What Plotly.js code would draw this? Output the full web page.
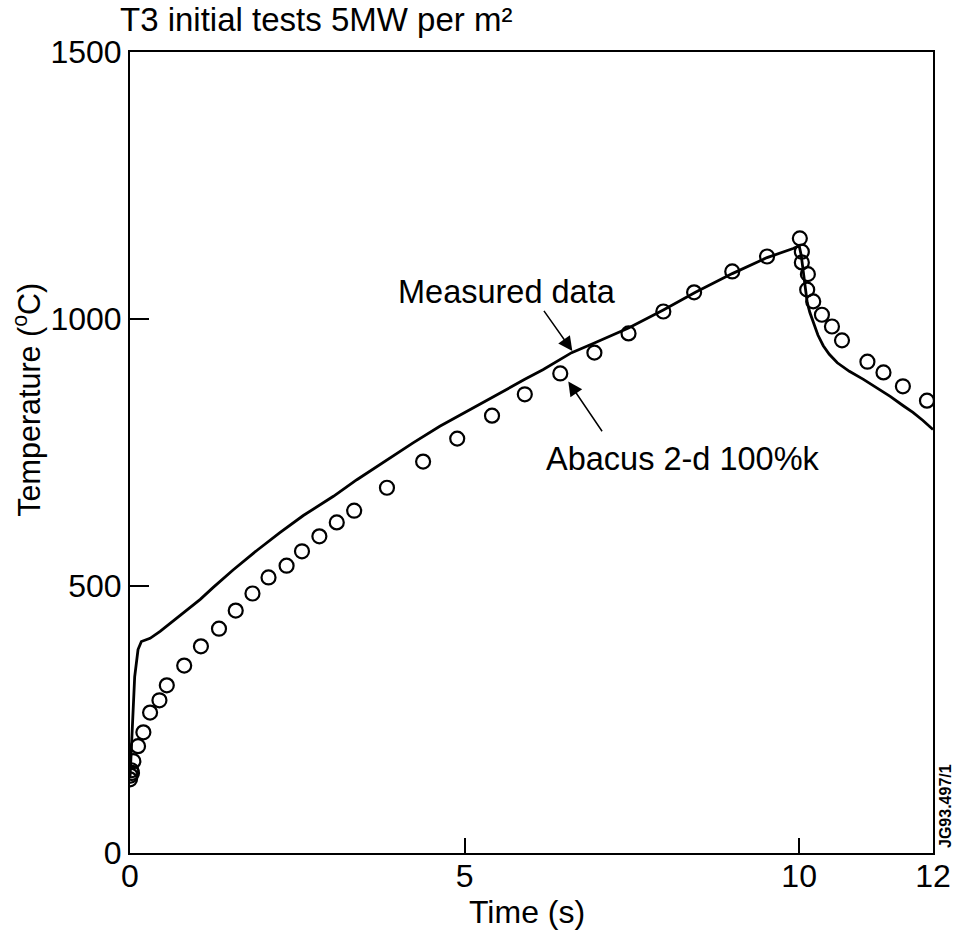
<!DOCTYPE html>
<html>
<head>
<meta charset="utf-8">
<script src="https://cdn.plot.ly/plotly-3.0.1.min.js"></script>
<style>html,body{margin:0;padding:0;background:#fff;}#chart{width:953px;height:939px;}</style>
</head>
<body>
<div id="chart"></div>
<script>
// Measured data (solid line)
const measuredTime = [0, 0.03, 0.07, 0.12, 0.17, 0.3, 0.45, 0.75, 1.05, 1.24, 1.54, 1.9, 2.24, 2.59, 3.04, 3.39, 3.78, 4.23, 4.63, 5.0, 5.41, 5.9, 6.17, 6.6, 6.94, 7.45, 7.97, 8.45, 9.0, 9.52, 9.91, 10.0, 10.03, 10.07, 10.12, 10.16, 10.21, 10.28, 10.36, 10.45, 10.57, 10.75, 10.96, 11.16, 11.36, 11.55, 11.7, 11.85, 12];
const measuredTemp = [140, 230, 330, 381, 396, 402, 415, 445, 475, 497, 530, 567, 600, 632, 668, 699, 731, 768, 799, 825, 853, 887, 905, 937, 955, 983, 1017, 1050, 1085, 1115, 1132, 1137, 1120, 1080, 1031, 1012, 995, 970, 950, 934, 918, 902, 887, 871, 855, 838, 825, 810, 793];

// Abacus 2-d 100%k (open circles)
const abacusTime = [0, 0.01, 0.02, 0.03, 0.05, 0.12, 0.2, 0.3, 0.44, 0.55, 0.81, 1.06, 1.33, 1.58, 1.83, 2.07, 2.34, 2.57, 2.83, 3.09, 3.35, 3.84, 4.38, 4.89, 5.41, 5.9, 6.43, 6.94, 7.45, 7.97, 8.43, 9.0, 9.52, 10.01, 10.04, 10.04, 10.13, 10.12, 10.21, 10.34, 10.49, 10.64, 11.02, 11.26, 11.55, 11.91];
const abacusTemp = [138, 145, 155, 150, 172, 200, 226, 263, 286, 314, 351, 387, 420, 454, 486, 516, 538, 565, 593, 619, 641, 684, 733, 776, 819, 859, 898, 937, 973, 1014, 1050, 1089, 1117, 1151, 1126, 1106, 1084, 1055, 1033, 1008, 986, 960, 920, 900, 874, 847];

const xTicks = [0, 5, 10, 12];
const yTicks = [0, 500, 1000, 1500];

const FONT = 'Liberation Sans, Arial, Helvetica, sans-serif';

const traces = [
  {
    x: measuredTime, y: measuredTemp, type: 'scatter', mode: 'lines',
    line: {color: '#000', width: 2.8}, name: 'Measured data', hoverinfo: 'skip'
  },
  {
    x: abacusTime, y: abacusTemp, type: 'scatter', mode: 'markers',
    marker: {symbol: 'circle-open', size: 14, color: '#000', line: {width: 2.2, color: '#000'}},
    name: 'Abacus 2-d 100%k', hoverinfo: 'skip'
  }
];

const layout = {
  width: 953, height: 939,
  paper_bgcolor: '#fff', plot_bgcolor: '#fff',
  showlegend: false,
  margin: {l: 130, r: 20, t: 52, b: 86},
  font: {family: FONT, color: '#000', size: 32},
  title: {
    text: 'T3 initial tests 5MW per m²',
    font: {family: FONT, size: 33, color: '#000'},
    xref: 'container', yref: 'container',
    x: 120 / 953, xanchor: 'left',
    y: 1 - 19 / 939, yanchor: 'middle'
  },
  xaxis: {
    range: [0, 12], tickvals: xTicks, ticktext: xTicks.map(String),
    showgrid: false, zeroline: false,
    showline: true, linecolor: '#000', linewidth: 2, mirror: true,
    ticks: 'inside', ticklen: 15, tickwidth: 2, tickcolor: '#000',
    ticklabelstandoff: -6,
    tickfont: {family: FONT, size: 32, color: '#000'}
  },
  yaxis: {
    range: [0, 1500], tickvals: yTicks, ticktext: yTicks.map(String),
    showgrid: false, zeroline: false,
    showline: true, linecolor: '#000', linewidth: 2, mirror: true,
    ticks: 'inside', ticklen: 19, tickwidth: 2, tickcolor: '#000',
    tickfont: {family: FONT, size: 32, color: '#000'}
  },
  annotations: [
    {text: 'Time (s)', xref: 'paper', yref: 'paper', x: 0.494, y: -0.074,
     showarrow: false, font: {family: FONT, size: 32}, xanchor: 'center', yanchor: 'middle'},
    {text: 'Temperature (<sup>o</sup>C)', xref: 'paper', yref: 'paper', x: -0.127, y: 0.566,
     textangle: -90, showarrow: false, font: {family: FONT, size: 30.5}, xanchor: 'center', yanchor: 'middle'},
    {text: 'Measured data', xref: 'x', yref: 'y', x: 5.64, y: 1050, showarrow: false,
     font: {family: FONT, size: 32.5}, xanchor: 'center', yanchor: 'middle'},
    {text: 'Abacus 2-d 100%k', xref: 'x', yref: 'y', x: 8.27, y: 737, showarrow: false,
     font: {family: FONT, size: 32.5}, xanchor: 'center', yanchor: 'middle'},
    {text: '', xref: 'x', yref: 'y', x: 6.61, y: 940, axref: 'x', ayref: 'y', ax: 6.17, ay: 1018,
     showarrow: true, arrowhead: 2, arrowsize: 1.9, arrowwidth: 1.5, arrowcolor: '#000'},
    {text: '', xref: 'x', yref: 'y', x: 6.55, y: 883, axref: 'x', ayref: 'y', ax: 7.07, ay: 787,
     showarrow: true, arrowhead: 2, arrowsize: 1.9, arrowwidth: 1.5, arrowcolor: '#000'},
    {text: '<b>JG93.497/1</b>', xref: 'paper', yref: 'paper', x: (945 - 130) / 803, y: (853 - 806) / 801,
     textangle: -90, showarrow: false, font: {family: FONT, size: 16}, xanchor: 'center', yanchor: 'middle'}
  ]
};

Plotly.newPlot('chart', traces, layout, {staticPlot: true, displayModeBar: false});
</script>
</body>
</html>
